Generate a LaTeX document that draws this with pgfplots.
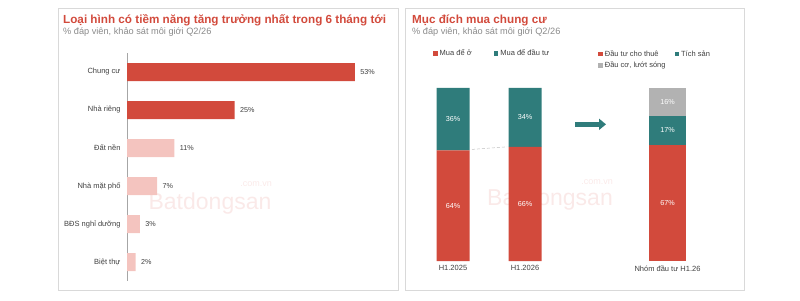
\documentclass[border=0pt]{standalone}
\usepackage{pgfplots}
\pgfplotsset{compat=1.18}
\usepackage{fontspec}
\setmainfont{Liberation Sans}
\usetikzlibrary{arrows.meta}
\definecolor{bdsred}{HTML}{D24A3C}
\definecolor{bdspink}{HTML}{F4C4BF}
\definecolor{bdsteal}{HTML}{2F7C7B}
\definecolor{bdsgray}{HTML}{B2B2B2}
\definecolor{subgray}{HTML}{8A8A8A}
\definecolor{txtgray}{HTML}{404040}
\pgfplotsset{/pgf/number format/assume math mode=true}
\begin{document}
\begin{tikzpicture}
\path[use as bounding box] (0pt,0pt) rectangle (800pt,300pt);
\draw[black!15, line width=0.8pt] (58pt,10pt) rectangle (398pt,292pt);
\draw[black!15, line width=0.8pt] (405pt,10pt) rectangle (744pt,292pt);
% watermarks
\node[inner sep=0pt, anchor=base, text=bdsred!12, font=\fontsize{23}{25}\selectfont] at (210pt,90pt) {Batdongsan};
\node[inner sep=0pt, text=bdsred!12, font=\fontsize{9}{10}\selectfont, anchor=base east] at (272pt,113pt) {.com.vn};
\node[inner sep=0pt, anchor=base west, text=bdsred!12, font=\fontsize{23}{25}\selectfont] at (487pt,94pt) {Ba};
\node[inner sep=0pt, anchor=base east, text=bdsred!12, font=\fontsize{23}{25}\selectfont] at (613pt,94pt) {ongsan};
\node[inner sep=0pt, text=bdsred!12, font=\fontsize{9}{10}\selectfont, anchor=base east] at (613pt,115pt) {.com.vn};
% titles
\node[anchor=base west, inner sep=0pt, text=bdsred, font=\bfseries\fontsize{11.7}{13}\selectfont] at (63pt,276pt) {Loại hình có tiềm năng tăng trưởng nhất trong 6 tháng tới};
\node[anchor=base west, inner sep=0pt, text=subgray, font=\fontsize{9.2}{11}\selectfont] at (63pt,265pt) {\% đáp viên, khảo sát môi giới Q2/26};
\node[anchor=base west, inner sep=0pt, text=bdsred, font=\bfseries\fontsize{11.7}{13}\selectfont] at (412pt,276pt) {Mục đích mua chung cư};
\node[anchor=base west, inner sep=0pt, text=subgray, font=\fontsize{9.2}{11}\selectfont] at (412pt,265pt) {\% đáp viên, khảo sát môi giới Q2/26};
% left chart
\begin{axis}[at={(127pt,19pt)}, anchor=south west, scale only axis,
  width=258pt, height=228pt, xbar, bar width=18pt, bar shift=0pt,
  xmin=0, xmax=60, ymin=-0.5, ymax=5.5, y dir=reverse,
  axis y line=left, axis x line=none,
  y axis line style={-, black!35},
  ytick={0,...,5},
  yticklabels={Chung cư, Nhà riêng, Đất nền, Nhà mặt phố, BĐS nghỉ dưỡng, Biệt thự},
  major tick length=0pt,
  yticklabel style={font=\fontsize{7.5}{9}\selectfont, text=txtgray, xshift=-3pt},
  point meta=x,
  nodes near coords={\pgfmathprintnumber{\pgfplotspointmeta}\%},
  every node near coord/.append style={font=\fontsize{7.2}{8}\selectfont, text=txtgray, anchor=west, xshift=2pt},
]
\addplot[fill=bdsred, draw=none] coordinates {(53,0) (25,1)};
\addplot[fill=bdspink, draw=none] coordinates {(11,2) (7,3) (3,4) (2,5)};
\end{axis}
% right chart: bars H1
\begin{axis}[at={(415pt,39pt)}, anchor=south west, scale only axis,
  width=320pt, height=173pt, xmin=0, xmax=320, ymin=0, ymax=100,
  ybar stacked, bar width=33pt,
  axis line style={draw=none}, xtick=\empty, ytick=\empty,
  legend style={at={(0.056,1.2)}, anchor=west, draw=none, fill=none, inner sep=0pt,
    font=\fontsize{7.5}{9}\selectfont, text=txtgray},
  legend columns=2, legend cell align=left,
  /tikz/every even column/.append style={column sep=20pt},
  legend image code/.code={\fill[#1] (0pt,-2.3pt) rectangle (4.6pt,2.3pt);},
]
\addplot[fill=bdsred, draw=none] coordinates {(38,64) (110,66)};
\addplot[fill=bdsteal, draw=none] coordinates {(38,36) (110,34)};
\legend{Mua để ở, Mua để đầu tư}
\end{axis}
% right chart: investor group
\begin{axis}[at={(415pt,39pt)}, anchor=south west, scale only axis,
  width=320pt, height=173pt, xmin=0, xmax=320, ymin=0, ymax=100,
  ybar stacked, bar width=37pt,
  axis line style={draw=none}, xtick=\empty, ytick=\empty,
  legend style={at={(0.572,1.23)}, anchor=north west, draw=none, fill=none, inner sep=0pt,
    font=\fontsize{7.5}{9}\selectfont, text=txtgray, row sep=0pt},
  legend columns=2, legend cell align=left,
  /tikz/every even column/.append style={column sep=7pt},
  legend image code/.code={\fill[#1] (0pt,-2.3pt) rectangle (4.6pt,2.3pt);},
]
\addplot[fill=bdsred, draw=none] coordinates {(252.5,67)};
\addplot[fill=bdsteal, draw=none] coordinates {(252.5,17)};
\addplot[fill=bdsgray, draw=none] coordinates {(252.5,16)};
\legend{Đầu tư cho thuê, Tích sản, {Đầu cơ, lướt sóng}}
\end{axis}
% right chart: labels, connector, arrow
\begin{axis}[at={(415pt,39pt)}, anchor=south west, scale only axis,
  width=320pt, height=173pt, xmin=0, xmax=320, ymin=0, ymax=100,
  axis line style={draw=none}, ytick=\empty,
  xtick={38,110,252.5}, xticklabels={H1.2025, H1.2026, Nhóm đầu tư H1.26},
  major tick length=0pt,
  xticklabel style={font=\fontsize{7.5}{9}\selectfont, text=txtgray, yshift=-1pt},
  clip=false,
]
\addplot[densely dashed, black!25, line width=0.5pt] coordinates {(57,64.5) (92,66)};
\addplot[bdsteal, line width=4.5pt, -{Triangle[length=7pt, width=11pt]}] coordinates {(160,79) (191,79)};
\addplot[draw=none, mark=none, point meta=explicit symbolic,
  nodes near coords,
  every node near coord/.append style={anchor=center, text=white, font=\fontsize{7.2}{8}\selectfont}]
  coordinates {(38,32)[64\%] (110,33)[66\%] (38,82)[36\%] (110,83)[34\%]
               (252.5,33.5)[67\%] (252.5,75.5)[17\%] (252.5,92)[16\%]};
\end{axis}
\end{tikzpicture}
\end{document}
